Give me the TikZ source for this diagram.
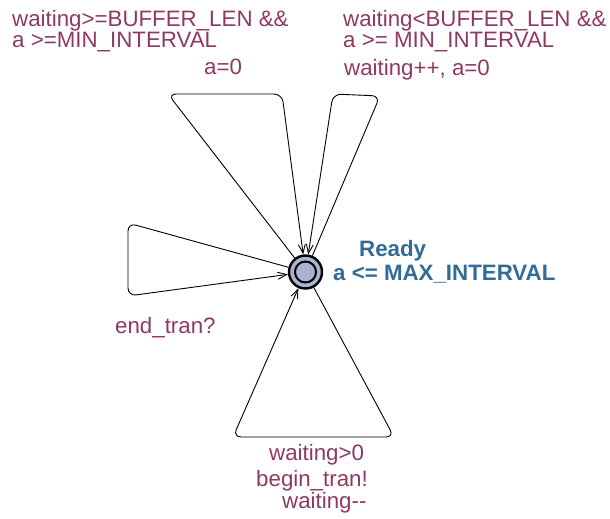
\documentclass[tikz,border=0pt]{standalone}
\usepackage{fontspec}
\setmainfont{Liberation Sans}
\usetikzlibrary{arrows.meta}

\definecolor{labelred}{RGB}{142,56,100}
\definecolor{locblue}{RGB}{50,108,150}
\definecolor{locfill}{RGB}{170,178,210}

\begin{document}
\begin{tikzpicture}[x=1pt,y=-1pt]
    \tikzstyle{every node}=[font=\fontsize{22.3}{21}\selectfont,inner sep=0pt]
    \tikzstyle{location}=[circle,draw=black,line width=2.4pt,fill=locfill,minimum size=33pt]
    \tikzstyle{committed}=[circle,draw=black,line width=2pt,minimum size=21pt]
    \tikzstyle{edge}=[line width=0.9pt,rounded corners=8pt,-{Straight Barb[length=9pt,width=7pt]}]
    \tikzstyle{label}=[text=labelred,anchor=north west,align=left]
    \tikzstyle{inv}=[text=locblue,font=\fontsize{22.3}{21}\selectfont\bfseries,anchor=north west]

    \useasboundingbox (0,0) rectangle (610,519);

    % the only location
    \node[location] (ready) at (305.5,272) {};
    \node[committed] (ready-inner) at (ready) {};
    \node[inv] (ready-name) at (359,240) {Ready};
    \node[inv] (ready-inv) at (333,265) {a <= MAX\_INTERVAL};

    % nails of the self loops
    \coordinate (full1) at (168,94);
    \coordinate (full2) at (282,94);
    \coordinate (room1) at (380,96);
    \coordinate (room2) at (333,94);
    \coordinate (end1) at (128,223);
    \coordinate (end2) at (128,296);
    \coordinate (send1) at (394,437);
    \coordinate (send2) at (233,437);

    % self loops
    \draw[edge] (ready) -- (full1) -- (full2) -- (ready);
    \draw[edge] (ready) -- (room1) -- (room2) -- (ready);
    \draw[edge] (ready) -- (end1) -- (end2) -- (ready);
    \draw[edge] (ready) -- (send1) -- (send2) -- (ready);

    % guards, syncs and updates
    \node[label] (g-full) at (12,10) {waiting>=BUFFER\_LEN \&\&\\a >=MIN\_INTERVAL};
    \node[label] (u-full) at (204,59) {a=0};
    \node[label] (g-room) at (343,10) {waiting<BUFFER\_LEN \&\&\\a >= MIN\_INTERVAL};
    \node[label] (u-room) at (344,59) {waiting++, a=0};
    \node[label] (s-end) at (115,317) {end\_tran?};
    \node[label] (g-send) at (269,444) {waiting>0};
    \node[label] (s-send) at (256,470) {begin\_tran!};
    \node[label] (u-send) at (282,492) {waiting-{}-};
\end{tikzpicture}
\end{document}
